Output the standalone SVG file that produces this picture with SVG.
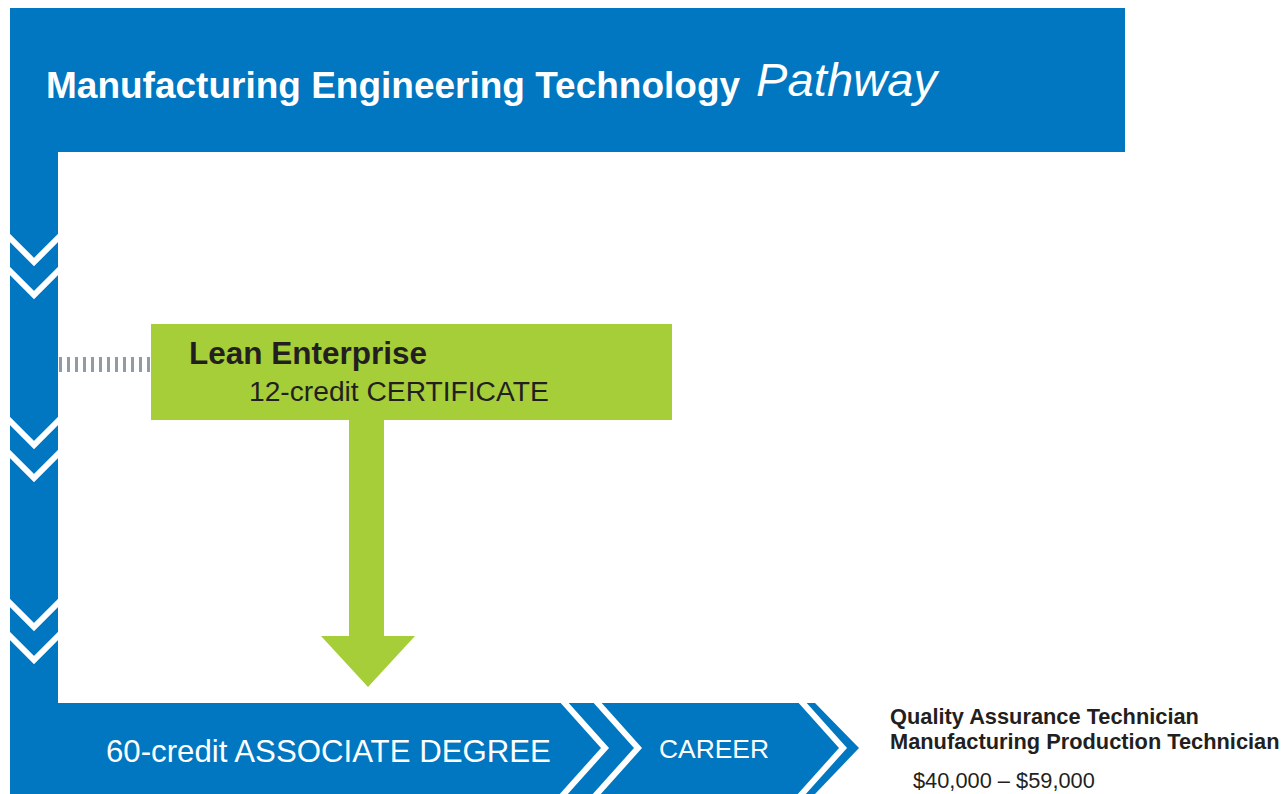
<svg xmlns="http://www.w3.org/2000/svg" width="1285" height="794" viewBox="0 0 1285 794">
<style>
.blue{fill:#0077c0}
.green{fill:#a6ce39}
.chev{fill:none;stroke:#fff;stroke-width:6}
.wt{fill:#fff;font-family:"Liberation Sans",Arial,sans-serif}
.dk{fill:#231f20;font-family:"Liberation Sans",Arial,sans-serif}
</style>
<rect width="1285" height="794" fill="#fff"/>
<g id="frame">
<rect class="blue" x="10" y="8" width="1115" height="144"/>
<rect class="blue" x="10" y="150" width="48" height="560"/>
<polyline class="chev" points="8,236 34,262 60,236"/>
<polyline class="chev" points="8,269 34,295 60,269"/>
<polyline class="chev" points="8,419 34,445 60,419"/>
<polyline class="chev" points="8,452 34,478 60,452"/>
<polyline class="chev" points="8,601 34,627 60,601"/>
<polyline class="chev" points="8,634 34,660 60,634"/>
<text class="wt" x="46" y="98" font-size="37" font-weight="bold">Manufacturing Engineering Technology</text>
<text class="wt" x="756" y="96" font-size="47" font-style="italic" font-family="'DejaVu Sans',sans-serif" textLength="181">Pathway</text>
</g>
<g id="connectors">
<line x1="59" y1="364.5" x2="151" y2="364.5" stroke="#8f9ba5" stroke-width="15" stroke-dasharray="3 5"/>
<polygon class="green" points="349,418 384,418 384,636 415,636 368,687 321,636 349,636"/>
</g>
<g id="lean">
<rect class="green" x="151" y="324" width="521" height="96"/>
<text class="dk" x="189" y="364" font-size="31.5" font-weight="bold">Lean Enterprise</text>
<text class="dk" x="249" y="401" font-size="28.2">12-credit CERTIFICATE</text>
</g>
<g id="degree">
<polygon class="blue" points="10,703 815,703 859,748 815,794 10,794"/>
<polyline class="chev" points="562,700 605,748 562,796"/>
<polyline class="chev" points="595,700 638,748 595,796"/>
<polyline class="chev" points="800,700 843,748 800,796"/>
<text class="wt" x="106" y="762" font-size="31.2">60-credit ASSOCIATE DEGREE</text>
<text class="wt" x="659" y="758" font-size="26.4">CAREER</text>
</g>
<g id="career">
<text class="dk" x="890" y="724" font-size="21.8" font-weight="bold">Quality Assurance Technician</text>
<text class="dk" x="890" y="749" font-size="21.8" font-weight="bold">Manufacturing Production Technician</text>
<text class="dk" x="913" y="788" font-size="21.8">$40,000 – $59,000</text>
</g>
</svg>
